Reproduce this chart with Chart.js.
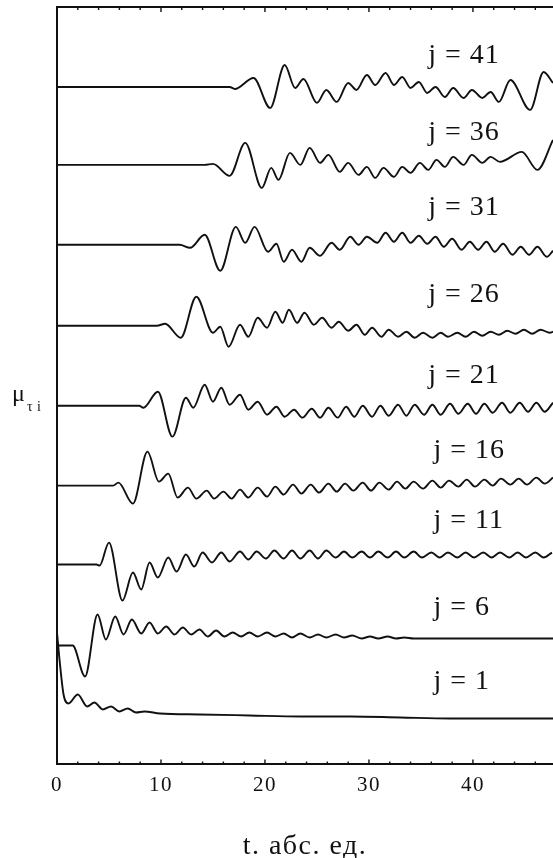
<!DOCTYPE html>
<html>
<head>
<meta charset="utf-8">
<script src="https://cdn.jsdelivr.net/npm/chart.js@4.4.1/dist/chart.umd.min.js"></script>
<style>
  html, body { margin: 0; padding: 0; background: #fff; overflow: hidden; }
  #wrap { width: 553px; height: 858px; }
</style>
</head>
<body>
<div id="wrap"><canvas id="chart" width="553" height="858"></canvas></div>
<script>
// curve index j (one trace per j, shifted vertically)
const jValues = [1, 6, 11, 16, 21, 26, 31, 36, 41];

// t, abs. units / mu values
const tJ1 = [0, 0.24, 0.63, 1.1, 2.0, 2.9, 3.6, 4.4, 5.2, 6.0, 6.8, 7.6, 8.4, 9.9, 13.7, 18.5, 23.4, 28.2, 33.0, 37.8, 42.6, 47.7];
const muJ1 = [13.2, 10.5, 7.0, 6.1, 7.0, 5.8, 6.2, 5.5, 5.8, 5.3, 5.6, 5.2, 5.3, 5.1, 5.0, 4.9, 4.8, 4.8, 4.7, 4.6, 4.6, 4.6];

const tJ6 = [0, 1.5, 2.7, 3.9, 4.7, 5.6, 6.4, 7.2, 8.1, 8.9, 9.7, 10.5, 11.3, 12.1, 12.9, 13.7, 14.5, 15.3, 16.1, 16.9, 17.7, 18.5, 19.3, 20.2, 21.0, 21.8, 22.6, 23.4, 24.3, 25.1, 25.9, 26.8, 27.6, 28.4, 29.3, 30.1, 30.9, 31.8, 32.6, 33.4, 34.3, 35.9, 38.8, 42.6, 47.7];
const muJ6 = [11.9, 11.9, 8.8, 15.0, 12.5, 14.8, 13.0, 14.5, 13.1, 14.2, 13.1, 13.8, 13.0, 13.7, 13.0, 13.5, 12.8, 13.4, 12.8, 13.2, 12.8, 13.2, 12.8, 13.2, 12.8, 13.1, 12.7, 13.1, 12.7, 13.0, 12.7, 13.0, 12.7, 12.9, 12.6, 12.8, 12.6, 12.8, 12.6, 12.7, 12.6, 12.6, 12.6, 12.6, 12.6];

const tJ11 = [0, 3.8, 4.1, 5.0, 6.3, 7.3, 8.1, 8.9, 9.7, 10.7, 11.5, 12.4, 13.2, 14.0, 14.9, 15.8, 16.6, 17.6, 18.4, 19.2, 20.1, 20.9, 21.8, 22.6, 23.4, 24.3, 25.1, 25.9, 26.8, 27.6, 28.4, 29.3, 30.1, 30.9, 31.8, 32.6, 33.4, 34.3, 35.1, 36.0, 36.8, 37.6, 38.5, 39.3, 40.1, 41.0, 41.8, 42.6, 43.5, 44.3, 45.1, 46.0, 46.8, 47.6];
const muJ11 = [20.0, 20.0, 19.9, 22.2, 16.4, 19.2, 17.5, 20.2, 18.7, 20.7, 19.3, 21.0, 19.8, 21.2, 20.2, 21.2, 20.3, 21.3, 20.5, 21.3, 20.6, 21.4, 20.6, 21.4, 20.6, 21.4, 20.6, 21.4, 20.7, 21.3, 20.7, 21.3, 20.7, 21.3, 20.7, 21.3, 20.7, 21.3, 20.7, 21.2, 20.7, 21.2, 20.7, 21.2, 20.7, 21.2, 20.7, 21.2, 20.7, 21.2, 20.7, 21.2, 20.7, 21.2];

const tJ16 = [0, 5.4, 5.9, 7.3, 8.7, 9.8, 10.7, 11.6, 12.6, 13.4, 14.4, 15.1, 16.0, 16.8, 17.6, 18.4, 19.3, 20.2, 21.0, 21.8, 22.7, 23.5, 24.4, 25.2, 26.1, 26.9, 27.7, 28.5, 29.4, 30.2, 31.0, 31.9, 32.7, 33.5, 34.3, 35.2, 36.1, 36.9, 37.7, 38.6, 39.4, 40.2, 41.1, 41.9, 42.7, 43.6, 44.4, 45.2, 46.1, 46.9, 47.7];
const muJ16 = [27.9, 27.9, 28.2, 26.1, 31.3, 28.3, 29.1, 26.7, 27.7, 26.6, 27.4, 26.6, 27.3, 26.6, 27.5, 26.7, 27.7, 26.8, 27.8, 27.0, 28.0, 27.1, 28.0, 27.2, 28.1, 27.3, 28.1, 27.4, 28.2, 27.4, 28.2, 27.5, 28.3, 27.6, 28.3, 27.6, 28.4, 27.7, 28.4, 27.8, 28.5, 27.8, 28.5, 27.9, 28.6, 28.0, 28.6, 28.0, 28.7, 28.1, 28.7];

const tJ21 = [0, 7.9, 8.3, 9.7, 11.1, 12.4, 13.1, 14.2, 15.0, 15.8, 16.6, 17.6, 18.4, 19.3, 20.2, 21.1, 21.9, 22.8, 23.6, 24.5, 25.3, 26.1, 27.0, 27.8, 28.6, 29.4, 30.3, 31.1, 31.9, 32.8, 33.6, 34.4, 35.3, 36.1, 36.9, 37.8, 38.6, 39.5, 40.3, 41.1, 41.9, 42.8, 43.6, 44.5, 45.3, 46.1, 46.9, 47.7];
const muJ21 = [35.9, 35.9, 35.7, 37.3, 32.8, 36.7, 35.7, 38.0, 36.3, 37.7, 36.0, 37.0, 35.5, 36.3, 35.0, 35.8, 34.8, 35.5, 34.7, 35.6, 34.7, 35.7, 34.7, 35.8, 34.8, 35.9, 34.8, 35.9, 34.9, 36.0, 34.9, 36.0, 35.0, 36.0, 35.0, 36.1, 35.1, 36.1, 35.1, 36.1, 35.2, 36.2, 35.2, 36.2, 35.3, 36.2, 35.3, 36.2];

const tJ26 = [0, 9.6, 10.4, 11.9, 13.4, 15.0, 15.7, 16.5, 17.6, 18.4, 19.3, 20.2, 21.0, 21.7, 22.3, 23.1, 23.8, 24.7, 25.5, 26.4, 27.1, 28.0, 28.8, 29.6, 30.3, 31.2, 31.9, 32.8, 33.6, 34.4, 35.2, 36.1, 36.9, 37.6, 38.5, 39.3, 40.1, 40.9, 41.7, 42.5, 43.3, 44.1, 44.9, 45.7, 46.5, 47.4, 47.7];
const muJ26 = [43.9, 43.9, 44.1, 42.7, 46.8, 43.2, 43.8, 41.8, 44.0, 42.8, 44.7, 43.7, 45.3, 44.2, 45.5, 44.2, 45.2, 44.0, 44.7, 43.7, 44.3, 43.4, 44.0, 43.0, 43.7, 42.8, 43.5, 42.8, 43.3, 42.7, 43.2, 42.7, 43.2, 42.8, 43.2, 42.8, 43.3, 42.9, 43.3, 43.0, 43.4, 43.1, 43.5, 43.1, 43.5, 43.2, 43.3];

const tJ31 = [0, 11.8, 12.8, 14.2, 15.7, 17.2, 18.1, 19.0, 20.3, 21.1, 21.8, 22.6, 23.5, 24.3, 25.3, 26.4, 27.2, 28.2, 29.0, 29.8, 30.8, 31.6, 32.4, 33.2, 34.0, 34.8, 35.6, 36.4, 37.2, 38.0, 38.9, 39.7, 40.5, 41.3, 42.1, 42.9, 43.8, 44.6, 45.4, 46.2, 47.1, 47.7];
const muJ31 = [52.0, 52.0, 51.7, 53.0, 49.4, 53.8, 52.2, 53.8, 51.3, 52.1, 50.3, 51.5, 50.3, 51.7, 50.9, 52.2, 51.5, 52.8, 52.0, 52.8, 52.2, 53.2, 52.3, 53.2, 52.2, 52.9, 52.1, 52.8, 51.8, 52.6, 51.5, 52.3, 51.5, 52.3, 51.3, 52.1, 51.0, 51.8, 51.0, 51.8, 50.8, 51.4];

const tJ36 = [0, 14.2, 15.0, 16.6, 18.1, 19.7, 20.6, 21.3, 22.4, 23.4, 24.3, 25.3, 26.1, 27.2, 28.0, 29.0, 29.8, 30.6, 31.4, 32.4, 33.2, 34.0, 34.9, 35.7, 36.5, 37.3, 38.1, 39.1, 39.9, 40.9, 41.7, 42.6, 44.7, 46.2, 47.7];
const muJ36 = [60.0, 60.0, 60.1, 58.9, 62.2, 57.7, 59.7, 58.5, 61.2, 60.0, 61.7, 60.2, 61.0, 59.3, 60.2, 59.0, 59.8, 58.7, 59.7, 58.8, 59.8, 59.2, 60.2, 59.5, 60.5, 59.8, 60.8, 60.0, 61.0, 60.2, 60.8, 60.3, 61.3, 59.5, 62.5];

const tJ41 = [0, 16.6, 17.1, 18.9, 20.5, 21.9, 22.9, 23.7, 25.0, 25.9, 26.9, 28.0, 28.8, 29.8, 30.6, 31.6, 32.4, 33.2, 34.0, 34.8, 35.6, 36.4, 37.3, 38.1, 39.1, 39.9, 40.9, 41.7, 42.5, 43.6, 45.5, 46.8, 47.7];
const muJ41 = [67.8, 67.8, 67.6, 68.7, 65.7, 70.0, 67.7, 68.6, 66.2, 67.5, 66.3, 68.2, 67.5, 69.0, 68.0, 69.2, 68.0, 68.8, 67.7, 68.3, 67.2, 67.8, 66.8, 67.7, 66.7, 67.5, 66.7, 67.3, 66.3, 68.5, 65.5, 69.3, 68.2];

// axis ticks
const xTickValues = [0, 10, 20, 30, 40];
const xMinorTicks = [0, 2, 4, 6, 8, 10, 12, 14, 16, 18, 20, 22, 24, 26, 28, 30, 32, 34, 36, 38, 40, 42, 44, 46];
const xTitle = 't. абс. ед.';

const tSeries = [tJ1, tJ6, tJ11, tJ16, tJ21, tJ26, tJ31, tJ36, tJ41];
const muSeries = [muJ1, muJ6, muJ11, muJ16, muJ21, muJ26, muJ31, muJ36, muJ41];

// where the "j = .." captions sit (data coords: left edge t, text baseline)
const captionAt = {
  t: [36.2, 36.2, 36.2, 36.2, 35.7, 35.7, 35.7, 35.7, 35.7],
  y: [7.5, 15.0, 23.7, 30.7, 38.2, 46.3, 55.0, 62.5, 70.2]
};

const INK = '#111';
const SERIF = '"Liberation Serif", "Times New Roman", serif';

const datasets = jValues.map((j, i) => ({
  label: 'j = ' + j,
  data: tSeries[i].map((t, k) => ({ x: t, y: muSeries[i][k] })),
  borderColor: INK,
  borderWidth: 1.9,
  pointRadius: 0,
  fill: false,
  cubicInterpolationMode: 'monotone'
}));

const framePlugin = {
  id: 'frame',
  beforeDraw(chart) {
    // scanned type is set a little loose
    chart.ctx.letterSpacing = '1.5px';
  },
  afterDraw(chart) {
    const { ctx, chartArea: a, scales: { x, y } } = chart;
    ctx.save();
    ctx.strokeStyle = INK;
    ctx.lineWidth = 2;
    ctx.beginPath();
    ctx.moveTo(a.left - 1, a.top);
    ctx.lineTo(a.right, a.top);
    ctx.stroke();

    // inward tick marks, bottom and top
    ctx.lineWidth = 1.4;
    xMinorTicks.forEach(v => {
      const px = x.getPixelForValue(v);
      const len = v % 10 === 0 ? 5 : 3;
      ctx.beginPath();
      ctx.moveTo(px, a.bottom);
      ctx.lineTo(px, a.bottom - len);
      ctx.moveTo(px, a.top);
      ctx.lineTo(px, a.top + len);
      ctx.stroke();
    });

    // captions
    ctx.fillStyle = INK;
    ctx.font = '28px ' + SERIF;
    ctx.letterSpacing = '1px';
    ctx.textAlign = 'left';
    ctx.textBaseline = 'alphabetic';
    jValues.forEach((j, i) => {
      ctx.fillText('j = ' + j, x.getPixelForValue(captionAt.t[i]), y.getPixelForValue(captionAt.y[i]));
    });

    // y axis name
    ctx.letterSpacing = '0px';
    ctx.font = '24px ' + SERIF;
    ctx.fillText('μ', a.left - 45, 401);
    ctx.font = '14px ' + SERIF;
    ctx.fillText('τ', a.left - 30, 411);
    ctx.fillText('i', a.left - 20, 411);
    ctx.restore();
  }
};

new Chart(document.getElementById('chart'), {
  type: 'line',
  data: { datasets },
  options: {
    responsive: false,
    animation: false,
    events: [],
    layout: { padding: { left: 57, top: 7, right: 0, bottom: 0 } },
    plugins: { legend: { display: false }, tooltip: { enabled: false } },
    scales: {
      x: {
        type: 'linear',
        min: 0,
        max: 47.7,
        afterBuildTicks: s => { s.ticks = xTickValues.map(v => ({ value: v })); },
        grid: { display: false, drawTicks: false },
        border: { display: true, color: INK, width: 2 },
        ticks: {
          autoSkip: false,
          maxRotation: 0,
          padding: 8,
          color: INK,
          font: { family: SERIF, size: 21 }
        },
        title: {
          display: true,
          text: xTitle,
          color: INK,
          font: { family: SERIF, size: 28, lineHeight: 0.8 },
          padding: { top: 30, bottom: 0 }
        }
      },
      y: {
        min: 0,
        max: 75.8,
        grid: { display: false, drawTicks: false },
        border: { display: true, color: INK, width: 2 },
        ticks: { display: false }
      }
    }
  },
  plugins: [framePlugin]
});
</script>
</body>
</html>
